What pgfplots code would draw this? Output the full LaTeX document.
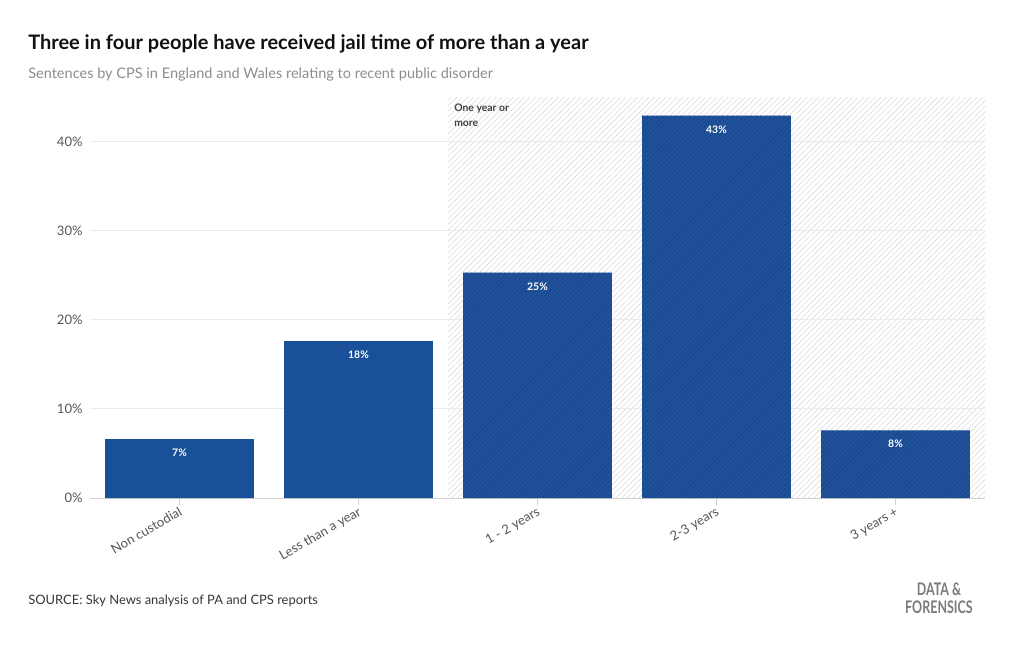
\documentclass[border=0pt]{standalone}
\usepackage{pgfplots}
\pgfplotsset{compat=1.18}
\usetikzlibrary{patterns.meta}
\usepackage{fontspec}
\setmainfont{Lato}
\definecolor{barblue}{HTML}{1A4F99}
\definecolor{hatchbase}{HTML}{1B4C93}
\definecolor{hatchline}{HTML}{2757A0}
\definecolor{bghatch}{HTML}{DCDCDC}
\definecolor{gridgray}{HTML}{EAEAEA}
\definecolor{axisgray}{HTML}{D0D0D0}
\definecolor{ticktext}{HTML}{555555}
\definecolor{subcol}{HTML}{8C8C8C}
\definecolor{titlecol}{HTML}{111111}
\definecolor{logocol}{HTML}{7A7A7A}
\begin{document}
\begin{tikzpicture}
\begin{scope}[x=0.75pt,y=0.75pt]
\path[use as bounding box] (0,0) rectangle (1020,650);
\node[anchor=base west, inner sep=0, font=\bfseries\fontsize{15}{17}\selectfont, text=titlecol] at (28,600) {Three in four people have received jail time of more than a year};
\node[anchor=base west, inner sep=0, font=\fontsize{10.9}{13}\selectfont, text=subcol] at (28,571) {Sentences by CPS in England and Wales relating to recent public disorder};
\node[anchor=base west, inner sep=0, font=\fontsize{9.7}{12}\selectfont, text=titlecol!85] at (28,46) {SOURCE: Sky News analysis of PA and CPS reports};
\node[anchor=base, inner sep=0, font=\bfseries\fontsize{13}{14}\selectfont, text=logocol] at (939,55) {\scalebox{0.72}[1]{DATA \&}};
\node[anchor=base, inner sep=0, font=\bfseries\fontsize{13}{14}\selectfont, text=logocol] at (939,37) {\scalebox{0.72}[1]{FORENSICS}};
\end{scope}
\begin{axis}[
  at={(67.5pt,114pt)}, anchor=south west,
  scale only axis, width=671.25pt, height=300.75pt,
  set layers,
  xmin=-0.5, xmax=4.5, ymin=0, ymax=45,
  axis x line*=bottom, axis y line*=left,
  x axis line style={draw=axisgray, -},
  y axis line style={draw=none},
  ymajorgrids, grid style={draw=gridgray, line width=0.6pt},
  ytick={0,10,20,30,40},
  yticklabels={0\%,10\%,20\%,30\%,40\%},
  ytick style={draw=none},
  xtick={0,1,2,3,4},
  xticklabels={Non custodial,Less than a year,1 - 2 years,2-3 years,3 years +},
  xtick style={draw=axisgray, line width=0.5pt},
  xtick align=outside, major tick length=5pt,
  tick label style={font=\fontsize{9.8}{12}\selectfont, text=ticktext},
  x tick label style={rotate=30, anchor=north east, yshift=3pt, xshift=2pt},
  y tick label style={xshift=-2pt},
  /pgf/number format/assume math mode=true,
]
\addplot[draw=none, fill=white, postaction={pattern={Lines[angle=45,distance=3pt,line width=0.45pt]}, pattern color=bghatch}, on layer=axis background] coordinates {(1.5,0) (1.5,45) (4.5,45) (4.5,0)} -- cycle;
\addplot[ybar, bar width=0.832, bar shift=0pt, fill=barblue, draw=none,
  nodes near coords={\pgfmathprintnumber[fixed,precision=0,assume math mode=true]{\pgfplotspointmeta}\%},
  every node near coord/.append style={anchor=north, yshift=-4pt, text=white, font=\bfseries\fontsize{7.8}{9}\selectfont}]
  coordinates {(0,6.6) (1,17.6)};
\addplot[ybar, bar width=0.832, bar shift=0pt, fill=hatchbase, draw=none,
  postaction={pattern={Lines[angle=45,distance=2.5pt,line width=0.5pt]}, pattern color=hatchline},
  nodes near coords={\pgfmathprintnumber[fixed,precision=0,assume math mode=true]{\pgfplotspointmeta}\%},
  every node near coord/.append style={anchor=north, yshift=-4pt, text=white, font=\bfseries\fontsize{7.8}{9}\selectfont}]
  coordinates {(2,25.3) (3,42.9) (4,7.6)};
\node[anchor=north west, align=left, inner sep=0, font=\bfseries\fontsize{7.8}{11.25}\selectfont, text=titlecol!80] at (axis cs:1.5,45) [xshift=4.5pt, yshift=-5pt] {One year or\\more};
\end{axis}
\end{tikzpicture}
\end{document}
